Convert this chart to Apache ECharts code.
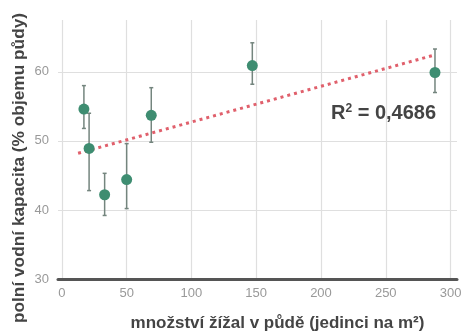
<!DOCTYPE html>
<html>
<head>
<meta charset="utf-8">
<script src="https://cdn.jsdelivr.net/npm/echarts@6/dist/echarts.min.js"></script>
<style>
  html, body { margin: 0; padding: 0; background: #fff; }
  #chart { width: 465px; height: 335px; }
</style>
</head>
<body>
<div id="chart"></div>
<script>
// Earthworm density vs. field water capacity
const wormDensity = [17, 21, 33, 50, 69, 147, 288];          // individuals per m²
const waterCapacity = [54.6, 48.9, 42.2, 44.4, 53.7, 60.9, 59.9]; // % of soil volume
const errLow = [51.8, 42.8, 39.2, 40.2, 49.8, 58.2, 57.0];
const errHigh = [58.0, 54.0, 45.3, 49.6, 57.7, 64.2, 63.3];

// Linear trend line end points
const trendX = [12.5, 287];
const trendY = [48.2, 62.4];

const xTicks = [0, 50, 100, 150, 200, 250, 300];
const yTicks = [30, 40, 50, 60];

const xTitle = 'množství žížal v půdě (jedinci na m²)';
const yTitle = 'polní vodní kapacita (% objemu půdy)';
const r2Text = '0,4686';

const points = wormDensity.map((x, i) => [x, waterCapacity[i]]);
const errData = wormDensity.map((x, i) => [x, errLow[i], errHigh[i]]);
const trendData = trendX.map((x, i) => [x, trendY[i]]);

const chart = echarts.init(document.getElementById('chart'), null, { renderer: 'canvas' });

const fontFam = '"Liberation Sans", Arial, sans-serif';

chart.setOption({
  animation: false,
  backgroundColor: '#ffffff',
  grid: { left: 58, right: 8, top: 20, bottom: 56, outerBoundsMode: 'none', containLabel: false },
  xAxis: {
    type: 'value',
    min: -3,
    max: 305,
    name: xTitle,
    nameLocation: 'middle',
    nameGap: 36,
    nameTextStyle: { fontFamily: fontFam, fontWeight: 'bold', fontSize: 17, color: '#444', padding: [0, 0, 0, 40] },
    axisLine: { show: true, lineStyle: { color: '#555', width: 3 } },
    axisTick: { show: false, customValues: xTicks },
    axisLabel: { customValues: xTicks, color: '#999', fontFamily: fontFam, fontSize: 13, margin: 8 },
    splitLine: { show: true, lineStyle: { color: '#dfdfdf', width: 1.2 } }
  },
  yAxis: {
    type: 'value',
    min: 30,
    max: 67.5,
    axisLine: { show: false },
    axisTick: { show: false, customValues: yTicks },
    axisLabel: { customValues: yTicks, color: '#999', fontFamily: fontFam, fontSize: 13, margin: 9 },
    splitLine: { show: true, lineStyle: { color: '#dfdfdf', width: 1.2 } }
  },
  series: [
    {
      type: 'custom',
      name: 'error',
      data: errData,
      z: 2,
      renderItem: function (params, api) {
        const x = api.value(0);
        const lo = api.coord([x, api.value(1)]);
        const hi = api.coord([x, api.value(2)]);
        const cap = 2;
        const style = { stroke: '#74857e', lineWidth: 1.5 };
        return {
          type: 'group',
          children: [
            { type: 'line', shape: { x1: lo[0], y1: lo[1], x2: hi[0], y2: hi[1] }, style },
            { type: 'line', shape: { x1: lo[0] - cap, y1: lo[1], x2: lo[0] + cap, y2: lo[1] }, style },
            { type: 'line', shape: { x1: hi[0] - cap, y1: hi[1], x2: hi[0] + cap, y2: hi[1] }, style }
          ]
        };
      }
    },
    {
      type: 'line',
      name: 'trend',
      data: trendData,
      symbol: 'none',
      z: 3,
      lineStyle: { color: '#e0606c', width: 3, type: [3, 4], cap: 'butt' }
    },
    {
      type: 'scatter',
      name: 'measured',
      data: points,
      symbol: 'circle',
      symbolSize: 11,
      z: 4,
      itemStyle: { color: '#3e8d71', opacity: 1 }
    }
  ],
  graphic: [
    {
      type: 'text',
      x: 19,
      y: 168,
      rotation: Math.PI / 2,
      style: {
        text: yTitle,
        fontFamily: fontFam,
        fontWeight: 'bold',
        fontSize: 17.3,
        fill: '#444',
        align: 'center',
        verticalAlign: 'middle'
      }
    },
    {
      type: 'text',
      left: 331,
      top: 103,
      style: {
        text: 'R{sup|2} = ' + r2Text,
        fontFamily: fontFam,
        fontWeight: 'bold',
        fontSize: 20,
        fill: '#444',
        rich: {
          sup: { fontSize: 12, fontWeight: 'bold', fill: '#444', verticalAlign: 'top', padding: [0, 0, 9, 0] }
        }
      }
    }
  ]
});
</script>
</body>
</html>
